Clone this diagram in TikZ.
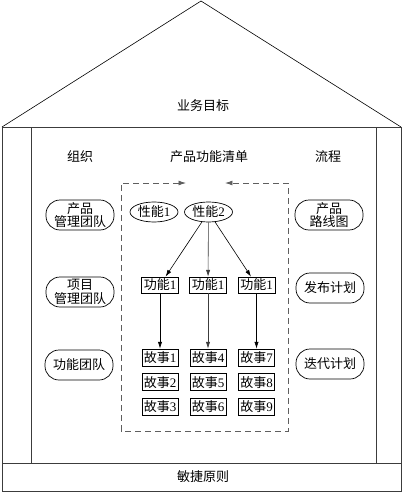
\documentclass[tikz,border=0pt]{standalone}
\usepackage{fontspec}
\usepackage{xcolor}
\usetikzlibrary{arrows.meta,positioning,shapes.geometric}
\setmainfont{Noto Sans CJK SC}
\newfontfamily\digfont{Liberation Serif}
\newcommand{\dig}[1]{{\digfont #1}}
\definecolor{houseGray}{RGB}{60,60,60}
\definecolor{dashGray}{RGB}{95,95,95}

\begin{document}
\begin{tikzpicture}[
    x=1pt,y=-1pt,
    font=\fontsize{13}{14}\selectfont,
    node distance=7pt,
    team/.style={draw,line width=0.7pt,rounded corners=14pt,minimum width=68pt,minimum height=30pt,inner sep=1pt,align=center,font=\fontsize{13}{13.5}\selectfont},
    feat/.style={draw,line width=0.7pt,ellipse,minimum width=48pt,minimum height=20pt,inner sep=0pt},
    func/.style={draw,line width=0.7pt,minimum width=37pt,minimum height=16pt,inner sep=1pt},
    story/.style={draw,line width=0.7pt,minimum width=36pt,minimum height=17pt,inner sep=1pt},
    arrow/.style={-{Latex[length=2.4mm,width=1.5mm]},line width=0.6pt}
  ]
    \useasboundingbox (0,0) rectangle (410,500);
    % house
    \draw[line width=0.6pt] (2,127) -- (201,1) -- (401,127);
    \draw[line width=0.6pt,draw=houseGray] (2,127) rectangle (401,491);
    \draw[line width=0.6pt,draw=houseGray] (2,463) -- (401,463);
    \draw[line width=0.6pt,draw=houseGray] (31,127) -- (31,463);
    \draw[line width=0.6pt,draw=houseGray] (376,127) -- (376,463);
    \node (goal) at (203,106) {业务目标};
    \node (agile) at (203,477) {敏捷原则};
    % headings
    \node (org) at (80,157) {组织};
    \node (backlog) at (209,157) {产品功能清单};
    \node (proc) at (328,157) {流程};
    % backlog frame
    \coordinate (tl) at (121,183);
    \coordinate (br) at (288,431);
    \draw[dashed,dash pattern=on 6pt off 4pt,line width=0.7pt,draw=dashGray,{Latex[length=2.6mm,width=1.7mm]}-{Latex[length=2.6mm,width=1.7mm]}]
      (186,183) -- (tl) -- (tl |- br) -- (br) -- (br |- tl) -- (225,183);
    % left and right
    \node[team] (pteam) at (80,215) {产品\\管理团队};
    \node[team] (jteam) at (80,292) {项目\\管理团队};
    \node[team] (fteam) at (79,365) {功能团队};
    \node[team] (roadmap) at (329,215) {产品\\路线图};
    \node[team] (release) at (330,288) {发布计划};
    \node[team] (iter) at (330,364) {迭代计划};
    % capabilities
    \node[feat] (cap1) at (154,212) {性能\dig{1}};
    \node[feat] (cap2) at (208.5,212) {性能\dig{2}};
    \node[func] (funa) at (160,285) {功能\dig{1}};
    \node[func] (funb) at (208,285) {功能\dig{1}};
    \node[func] (func) at (256.5,285) {功能\dig{1}};
    \node[story] (s1) at (160,357.5) {故事\dig{1}};
    \node[story,below=of s1] (s2) {故事\dig{2}};
    \node[story,below=of s2] (s3) {故事\dig{3}};
    \node[story] (s4) at (208,357.5) {故事\dig{4}};
    \node[story,below=of s4] (s5) {故事\dig{5}};
    \node[story,below=of s5] (s6) {故事\dig{6}};
    \node[story] (s7) at (256.5,357.5) {故事\dig{7}};
    \node[story,below=of s7] (s8) {故事\dig{8}};
    \node[story,below=of s8] (s9) {故事\dig{9}};
    \draw[arrow] (cap2) -- (funa);
    \draw[arrow,draw=houseGray] (cap2) -- (funb);
    \draw[arrow] (cap2) -- (func);
    \draw[arrow] (funa) -- (s1);
    \draw[arrow,draw=houseGray] (funb) -- (s4);
    \draw[arrow] (func) -- (s7);
  \end{tikzpicture}
\end{document}
